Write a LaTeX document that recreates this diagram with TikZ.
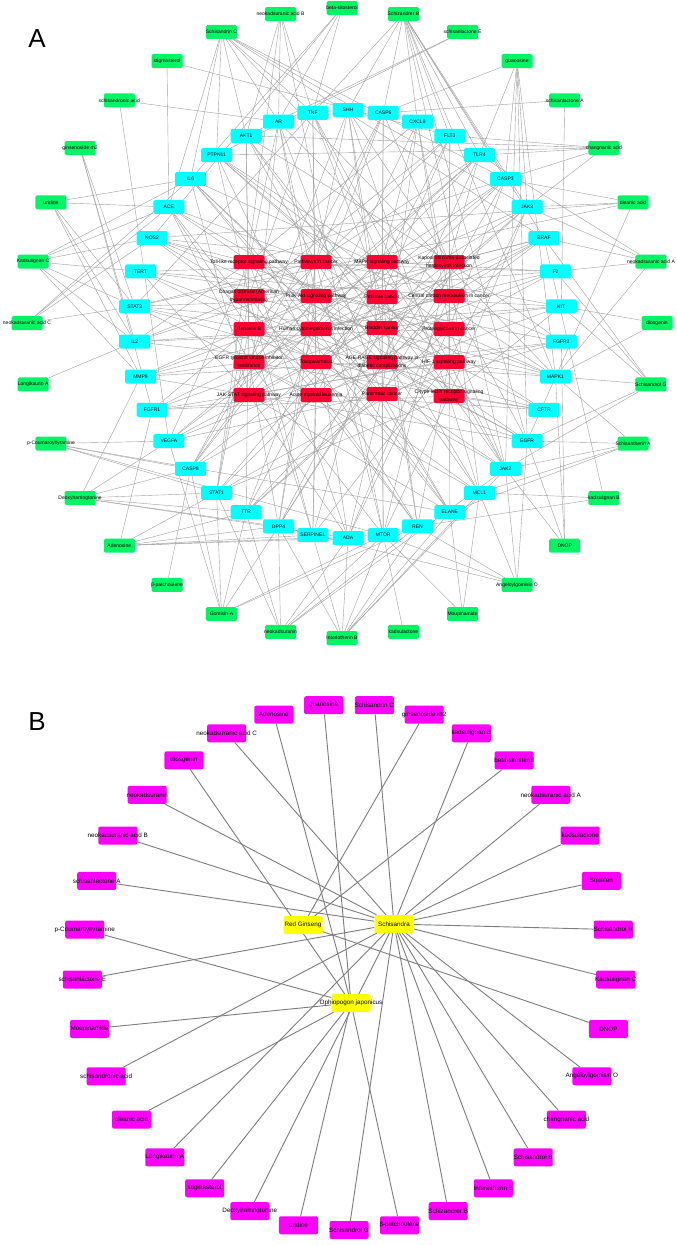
\documentclass[tikz,border=0pt]{standalone}
\usepackage{fontspec}
\setmainfont{Liberation Sans}
\usetikzlibrary{backgrounds}
\definecolor{cmpgreen}{RGB}{0,245,100}
\definecolor{tgtcyan}{RGB}{0,255,255}
\definecolor{pathred}{RGB}{255,0,51}
\definecolor{herbyellow}{RGB}{255,255,0}
\definecolor{ingmagenta}{RGB}{255,0,255}
\definecolor{edgelight}{RGB}{160,160,160}
\definecolor{edgedark}{RGB}{125,125,125}
\newcommand{\ovl}[1]{\makebox[0pt]{#1}}% label may run past its box
\newcommand{\twoln}[2]{\makebox[0pt]{\shortstack{#1\\#2}}}
\tikzset{every node/.style={font=\fontsize{5}{5.5}\selectfont},
  abox/.style={rounded corners=1.5pt, minimum width=31pt, minimum height=14pt, inner sep=0pt},
  cmp/.style={abox, fill=cmpgreen},
  tgt/.style={abox, fill=tgtcyan},
  pathway/.style={abox, fill=pathred},
  bbox/.style={rounded corners=2pt, minimum width=39pt, minimum height=18pt, inner sep=0pt,
    font=\fontsize{6.3}{7}\selectfont},
  herb/.style={bbox, fill=herbyellow},
  ing/.style={bbox, fill=ingmagenta},
  aedge/.style={draw=edgelight, line width=0.4pt},
  bedge/.style={draw=edgedark, line width=0.9pt}}

\begin{document}
\begin{tikzpicture}[x=1pt,y=-1pt]
\useasboundingbox (0,0) rectangle (677,1245);
\begin{scope}[on background layer]
\fill[white] (0,0) rectangle (677,1245);
\end{scope}

% panel A: compounds (outer ring)
\node[font=\fontsize{26}{28}\selectfont] (labA) at (37,39) {A};
\foreach \n/\t [count=\i from 0] in {bsito/beta-sitosterol, schzB/Schizandrer B,
  slacE/schisanlactone E, guan/guanosine, slacA/schisanlactone A, chang/changnanic acid,
  olea/oleanic acid, nkaA/neokadsuranic acid A, dios/diosgenin, sdolG/Schisandrol G,
  sthA/Schisantherin A, kadB/kadsulignan B, dnop/DNOP, angO/Angeloylgomisin O,
  moup/Moupinamide, kdlac/kadsulactone, intB/Interiotherin B, nkdn/neokadsuranin,
  gomA/Gomisin-A, bpat/β-patchoulene, aden/Adenosine, deox/Deoxyharringtonine,
  pcou/p-Coumaroyltyramine, longA/Longikaurin A, nkaC/neokadsuranic acid C,
  kadC/Kadsulignan C, urid/uridine, ginrh/ginsenoside rh2, sacid/schisandronic acid,
  stig/stigmasterol, sdrC/Schisandrin C, nkaB/neokadsuranic acid B}
  \node[cmp] (\n) at ({342+315*cos(90-11.25*\i)},{323-315*sin(90-11.25*\i)}) {\ovl{\t}};

% targets (inner ring)
\foreach \t [count=\k from 0] in {SHH,TNF,AR,AKT1,PTPN11,IL6,ACE,NOS2,TERT,STAT3,IL2,MMP9,
  FGFR1,VEGFA,CASP8,STAT1,TTR,DPP4,SERPINE1,ADA,MTOR,REN,ELANE,MCL1,JAK2,EGFR,CFTR,
  MAPK1,FGFR2,KIT,F2,BRAF,JAK3,CASP3,TLR4,FLT3,CXCL8,CASP6}
  \node[tgt] (\t) at ({348+214*cos(90+360/38*\k)},{324-214*sin(90+360/38*\k)}) {\ovl{\t}};

% pathways (grid)
\node[pathway] (p1) at (249,262) {\ovl{Toll-like receptor signaling pathway}};
\node[pathway] (p2) at (316,262) {\ovl{Pathways in cancer}};
\node[pathway] (p3) at (382,262) {\ovl{MAPK signaling pathway}};
\node[pathway] (p4) at (449,262) {\twoln{Kaposi sarcoma-associated}{herpesvirus infection}};
\node[pathway] (p5) at (249,296) {\twoln{Chagas disease (American}{trypanosomiasis)}};
\node[pathway] (p6) at (316,296) {\ovl{PI3K-Akt signaling pathway}};
\node[pathway] (p7) at (382,297) {\ovl{Prostate cancer}};
\node[pathway] (p8) at (449,296) {\ovl{Central carbon metabolism in cancer}};
\node[pathway] (p9) at (249,329) {\ovl{Hepatitis B}};
\node[pathway] (p10) at (316,329) {\ovl{Human cytomegalovirus infection}};
\node[pathway] (p11) at (382,328) {\ovl{Bladder cancer}};
\node[pathway] (p12) at (449,329) {\ovl{Proteoglycans in cancer}};
\node[pathway] (p13) at (249,362) {\twoln{EGFR tyrosine kinase inhibitor}{resistance}};
\node[pathway] (p14) at (316,362) {\ovl{Toxoplasmosis}};
\node[pathway] (p15) at (382,362) {\twoln{AGE-RAGE signaling pathway in}{diabetic complications}};
\node[pathway] (p16) at (449,362) {\ovl{HIF-1 signaling pathway}};
\node[pathway] (p17) at (249,395) {\ovl{JAK-STAT signaling pathway}};
\node[pathway] (p18) at (316,395) {\ovl{Acute myeloid leukemia}};
\node[pathway] (p19) at (382,394) {\ovl{Pancreatic cancer}};
\node[pathway] (p20) at (449,396) {\twoln{C-type lectin receptor signaling}{pathway}};

\begin{scope}[on background layer]
\foreach \a/\b in {bsito/AR, bsito/NOS2, bsito/IL6, bsito/TNF,
  schzB/SHH, schzB/CASP6, schzB/CXCL8, schzB/FLT3, schzB/TLR4, schzB/CASP3, schzB/JAK3,
  schzB/BRAF, schzB/MAPK1, schzB/EGFR, schzB/JAK2, schzB/STAT3,
  slacE/AKT1, slacE/PTPN11,
  guan/CASP6, guan/TLR4, guan/CASP3, guan/JAK3, guan/EGFR, guan/MAPK1, guan/JAK2,
  slacA/CASP6, slacA/KIT,
  chang/FLT3, chang/TLR4, chang/CASP3, chang/AKT1, chang/PTPN11, chang/JAK3,
  olea/CASP3, olea/JAK3, olea/EGFR, olea/STAT3, olea/NOS2,
  nkaA/BRAF, nkaA/F2, nkaA/JAK3, nkaA/MAPK1, nkaA/TLR4,
  dios/KIT, dios/MAPK1,
  sdolG/BRAF, sdolG/F2, sdolG/KIT, sdolG/MAPK1, sdolG/EGFR, sdolG/JAK2,
  sthA/MAPK1, sthA/EGFR, sthA/JAK2, sthA/MCL1, sthA/ELANE,
  kadB/MCL1, kadB/REN, kadB/BRAF,
  dnop/EGFR, dnop/JAK2, dnop/MAPK1, dnop/FGFR2,
  angO/JAK2, angO/MCL1, angO/REN, angO/MTOR, angO/EGFR, angO/DPP4,
  moup/ELANE, moup/MCL1, moup/MTOR,
  kdlac/MTOR,
  intB/MTOR, intB/REN, intB/ELANE, intB/MCL1, intB/JAK2, intB/ADA, intB/SERPINE1, intB/DPP4,
  nkdn/DPP4, nkdn/ADA, nkdn/MTOR, nkdn/REN, nkdn/STAT1, nkdn/TTR, nkdn/JAK2,
  gomA/CASP8, gomA/STAT1, gomA/TTR, gomA/DPP4, gomA/VEGFA, gomA/MTOR, gomA/REN,
  bpat/CASP8,
  aden/STAT1, aden/TTR, aden/DPP4, aden/ADA, aden/MTOR, aden/FGFR1, aden/SERPINE1,
  deox/MMP9, deox/VEGFA, deox/CASP8, deox/STAT1, deox/TTR, deox/DPP4, deox/ADA,
  pcou/VEGFA, pcou/CASP8, pcou/STAT1, pcou/ELANE, pcou/MTOR,
  longA/IL2,
  nkaC/NOS2, nkaC/ACE, nkaC/IL6, nkaC/STAT3,
  kadC/NOS2, kadC/TERT, kadC/STAT3, kadC/IL2, kadC/ACE, kadC/IL6, kadC/MMP9,
  urid/ACE, urid/IL6, urid/STAT3, urid/IL2, urid/MMP9,
  ginrh/STAT3, ginrh/IL2, ginrh/FGFR1,
  sacid/AR, sacid/VEGFA,
  stig/ACE, stig/FLT3,
  sdrC/AR, sdrC/AKT1, sdrC/TNF, sdrC/IL6, sdrC/ACE, sdrC/PTPN11, sdrC/JAK3, sdrC/CASP3,
  sdrC/MAPK1, sdrC/BRAF,
  nkaB/AR, nkaB/TNF, nkaB/AKT1, nkaB/STAT1, nkaB/MTOR}
  \draw[aedge] (\a) -- (\b);
% targets to pathways
\foreach \t [count=\k from 0] in {SHH,TNF,AR,AKT1,PTPN11,IL6,ACE,NOS2,TERT,STAT3,IL2,MMP9,
  FGFR1,VEGFA,CASP8,STAT1,TTR,DPP4,SERPINE1,ADA,MTOR,REN,ELANE,MCL1,JAK2,EGFR,CFTR,
  MAPK1,FGFR2,KIT,F2,BRAF,JAK3,CASP3,TLR4,FLT3,CXCL8,CASP6}
  \foreach \j in {1,...,20}{
    \pgfmathtruncatemacro{\h}{mod(\k*7+\j*11,20)}
    \ifnum\h<6 \draw[aedge] (\t) -- (p\j);\fi
  }
\end{scope}

% panel B: herbs and their compounds
\node[font=\fontsize{26}{28}\selectfont] (labB) at (37,722) {B};
\node[herb] (RG) at (303,925) {\ovl{Red Ginseng}};
\node[herb] (SC) at (394,924) {\ovl{Schisandra}};
\node[herb] (OJ) at (351,1003) {\ovl{Ophiopogon japonicus}};
\foreach \n/\t/\h [count=\i from 0] in {bSdrC/Schisandrin C/SC, bGinrh/ginsenoside rh2/RG,
  bKadB/kadsulignan B/SC, bBsito/beta-sitosterol/RG, bNkaA/neokadsuranic acid A/SC,
  bKdlac/kadsulactone/SC, bSqua/Squalen/SC, bSdolR/Schisandrol R/SC,
  bKadC/Kadsulignan C/SC, bDnop/DNOP/RG, bAngO/Angeloylgomisin O/SC,
  bChang/changnanic acid/SC, bSdolB/Schisandrol B/SC, bIntB/Interiotherin B/SC,
  bSchzB/Schizandrer B/SC, bBpat/β-patchoulene/OJ, bSdolG/Schisandrol G/SC,
  bUrid/uridine/OJ, bDeox/Deoxyharringtonine/SC, bStig/stigmasterol/OJ,
  bLongA/Longikaurin A/SC, bOlea/oleanic acid/OJ, bSacid/schisandronic acid/SC,
  bMoup/Moupinamide/OJ, bSlacE/schisanlactone E/SC, bPcou/p-Coumaroyltyramine/OJ,
  bSlacA/schisanlactone A/SC, bNkaB/neokadsuranic acid B/SC, bNkdn/neokadsuranin/SC,
  bDios/diosgenin/OJ, bNkaC/neokadsuranic acid C/SC, bAden/Adenosine/OJ,
  bGuan/guanosine/OJ}{
  \node[ing] (\n) at ({349+267*cos(84.545-360/33*\i)},{967-263*sin(84.545-360/33*\i)}) {\ovl{\t}};
  \begin{scope}[on background layer]
  \draw[bedge] (\n) -- (\h);
  \end{scope}
}
\end{tikzpicture}
\end{document}
